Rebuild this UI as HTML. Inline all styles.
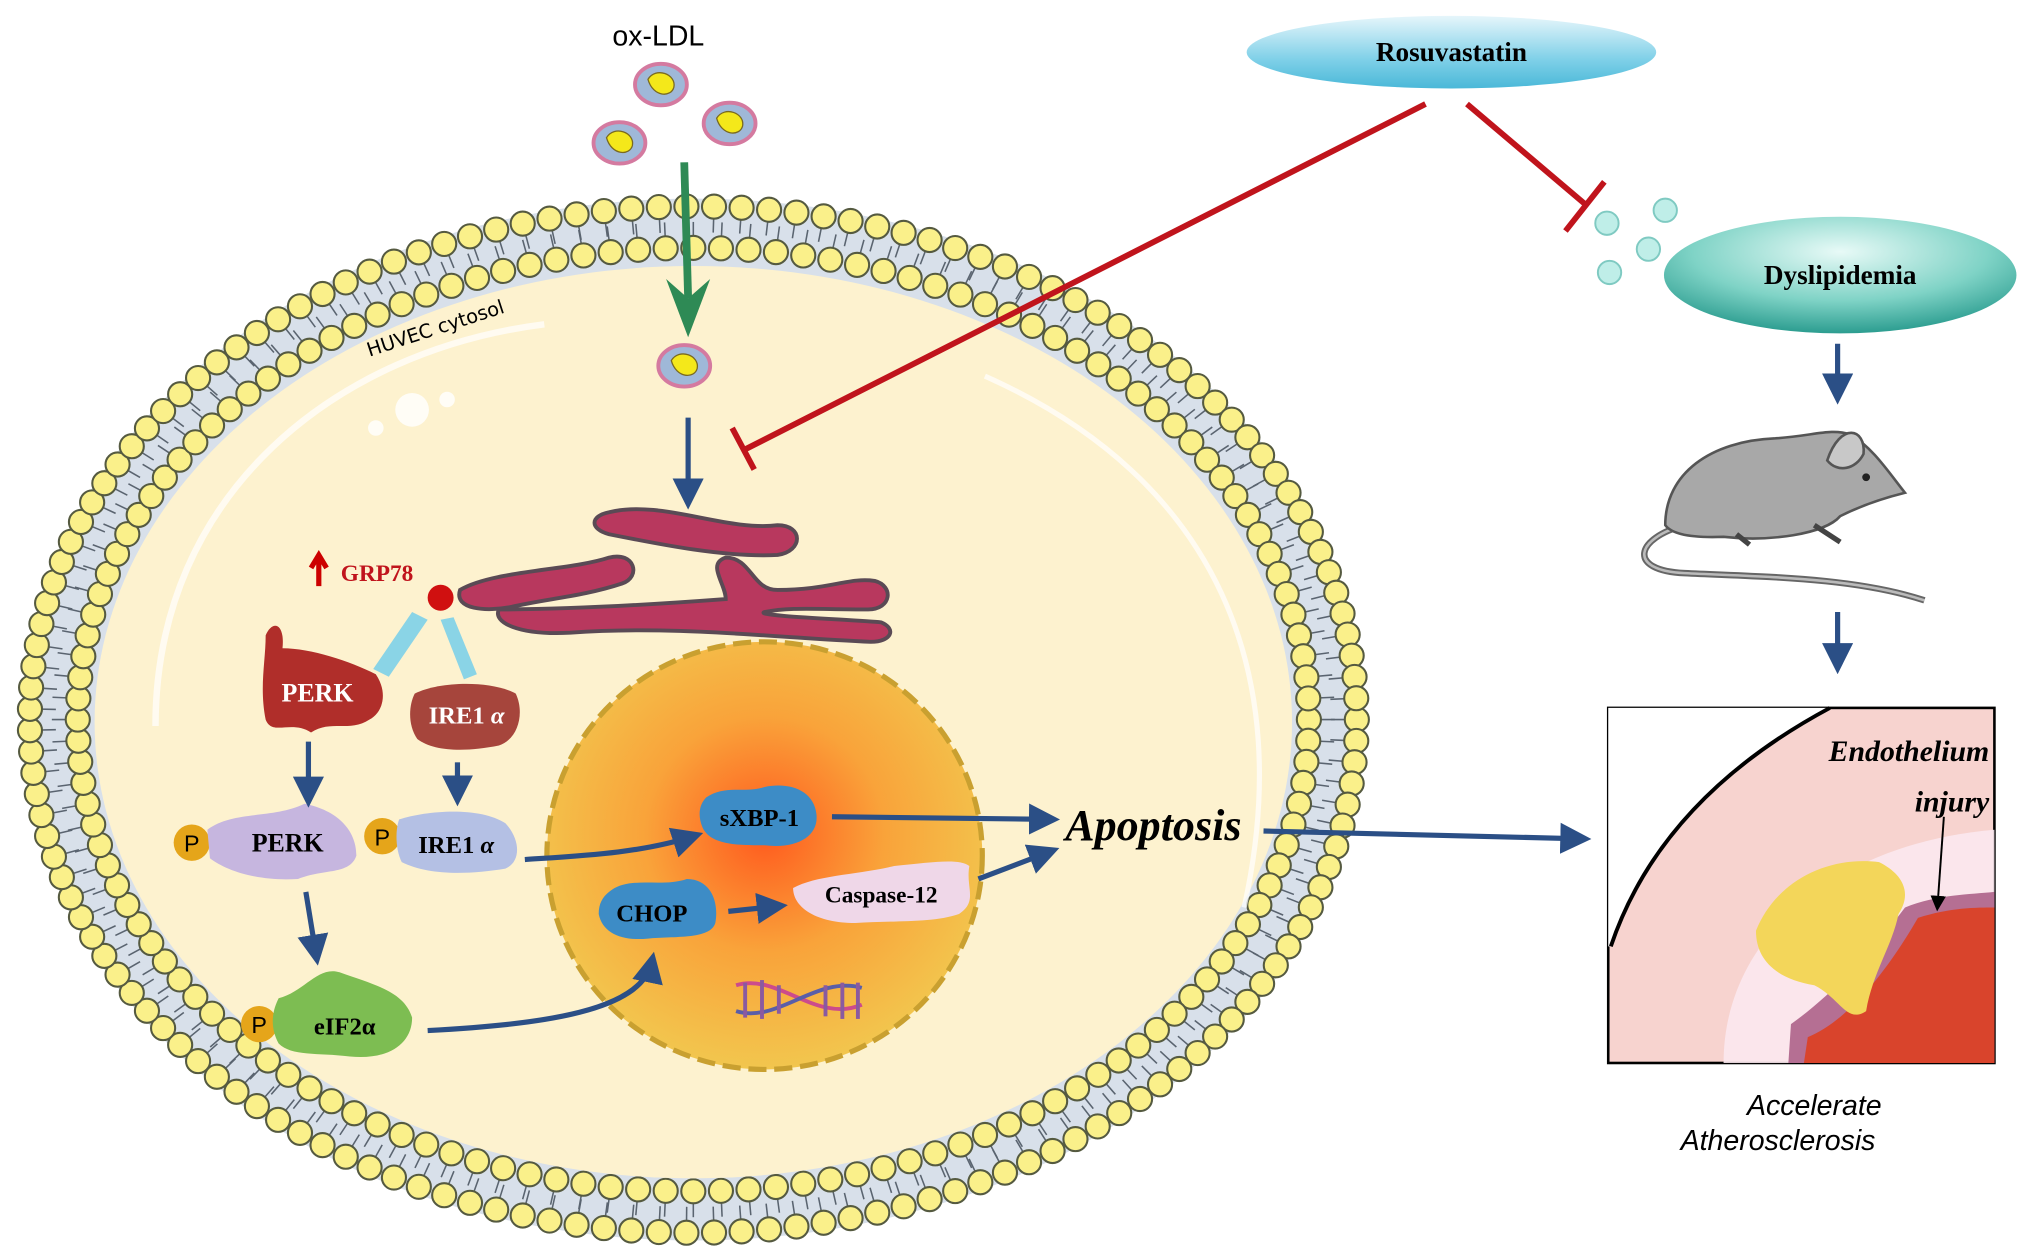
<!DOCTYPE html>
<html><head><meta charset="utf-8"><style>
html,body{margin:0;padding:0;background:#fff;}
svg{display:block;}
</style></head><body>
<svg id="s" width="2032" height="1259" viewBox="0 0 1568 971" xmlns="http://www.w3.org/2000/svg" font-family="Liberation Serif, serif">
<defs>
<radialGradient id="nuc" cx="0.5" cy="0.45" r="0.55"><stop offset="0" stop-color="#ff5a1e"/><stop offset="0.5" stop-color="#f9a33a"/><stop offset="1" stop-color="#f2c64e"/></radialGradient>
<linearGradient id="ros" x1="0" y1="0" x2="0" y2="1"><stop offset="0" stop-color="#e6f6fb"/><stop offset="0.6" stop-color="#7fd0e8"/><stop offset="1" stop-color="#4ab8d8"/></linearGradient>
<radialGradient id="dys" cx="0.5" cy="0.3" r="0.7"><stop offset="0" stop-color="#e8faf7"/><stop offset="0.6" stop-color="#7fd3c6"/><stop offset="1" stop-color="#2c9d90"/></radialGradient>
<marker id="ab" markerWidth="6" markerHeight="6" refX="4" refY="3" orient="auto" markerUnits="strokeWidth"><path d="M0,0 L6,3 L0,6 z" fill="#2b4f86"/></marker>
<marker id="ak" markerWidth="8" markerHeight="8" refX="6" refY="4" orient="auto" markerUnits="strokeWidth"><path d="M0,0 L8,4 L0,8 z" fill="#000"/></marker>
</defs>
<ellipse cx="535" cy="555" rx="518" ry="402" fill="#d8e0ea"/>
<g id="mem"></g>
<ellipse cx="535" cy="557" rx="462" ry="352" fill="#fdf2cf"/>
<path d="M120,560 C120,380 260,270 420,250" stroke="#fff" stroke-width="5" fill="none" opacity="0.7"/>
<path d="M760,290 C940,370 1000,520 960,700" stroke="#fff" stroke-width="4" fill="none" opacity="0.7"/>
<circle cx="318" cy="316" r="13" fill="#fff" opacity="0.8"/><circle cx="290" cy="330" r="6" fill="#fff" opacity="0.8"/><circle cx="345" cy="308" r="6" fill="#fff" opacity="0.8"/>
<text x="285" y="275" font-family="DejaVu Sans, sans-serif" font-size="15" transform="rotate(-18 285 275)">HUVEC cytosol</text>
<ellipse cx="590" cy="660" rx="168" ry="165" fill="url(#nuc)" stroke="#c9a030" stroke-width="4" stroke-dasharray="14 6"/>
<g stroke-width="3"><path d="M568,760 C600,750 630,790 665,775" stroke="#cc4b8c" fill="none"/><path d="M568,780 C600,790 630,752 665,762" stroke="#5a5ea8" fill="none"/>
<g stroke="#8a5aa0"><line x1="575" y1="758" x2="575" y2="785"/><line x1="588" y1="756" x2="588" y2="786"/><line x1="601" y1="760" x2="601" y2="782"/><line x1="637" y1="760" x2="637" y2="784"/><line x1="650" y1="758" x2="650" y2="786"/><line x1="662" y1="758" x2="662" y2="786"/></g></g>
<g fill="#b8385e" stroke="#5a4a55" stroke-width="3">
<path d="M470,395 C510,385 560,410 600,405 C620,405 620,425 600,428 C560,430 510,420 470,412 C455,408 455,398 470,395z"/>
<path d="M355,455 C380,440 440,440 470,430 C490,425 495,445 480,450 C450,460 420,462 395,468 C375,472 350,470 355,455z"/>
<path d="M385,470 C450,470 520,465 560,462 C560,450 545,435 560,430 C580,430 580,455 600,455 C640,455 655,445 675,448 C690,452 688,470 670,470 C630,470 610,468 590,472 C580,475 660,478 680,480 C692,485 688,495 672,495 C600,492 520,482 440,488 C400,490 380,480 385,470z"/>
</g>
<circle cx="340" cy="461" r="10" fill="#d01010"/>
<path d="M246,452 L246,432 M240,438 L246,428 L252,438" stroke="#c00" stroke-width="4" fill="none"/>
<text x="263" y="448" fill="#c0141c" font-size="18" font-weight="bold">GRP78</text>
<g fill="#8ad4e6"><polygon points="318,472 330,478 300,522 288,516"/><polygon points="340,478 350,476 368,520 358,524"/></g>
<path d="M205,490 C210,478 220,480 218,500 C240,500 270,510 290,520 C300,535 295,550 285,555 C270,565 255,555 240,565 C225,555 210,568 205,555 C200,530 205,510 205,490z" fill="#b02e2a"/>
<text x="245" y="541" fill="#fff" font-size="20" font-weight="bold" text-anchor="middle">PERK</text>
<path d="M320,535 C340,525 380,525 398,535 C405,550 400,570 385,575 C360,580 335,580 322,570 C315,560 315,545 320,535z" fill="#a6453c"/>
<text x="360" y="558" fill="#fff" font-size="19" font-weight="bold" text-anchor="middle">IRE1 <tspan font-style="italic">α</tspan></text>
<circle cx="148" cy="650" r="14" fill="#e5a51a"/><text x="148" y="657" font-size="18" font-family="Liberation Sans, sans-serif" text-anchor="middle">P</text>
<path d="M160,640 C180,625 210,632 235,620 C260,625 275,640 275,660 C270,675 250,670 230,678 C200,680 175,672 162,662z" fill="#c6b6df"/>
<text x="222" y="657" font-size="20" font-weight="bold" text-anchor="middle">PERK</text>
<circle cx="295" cy="645" r="14" fill="#e5a51a"/><text x="295" y="652" font-size="18" font-family="Liberation Sans, sans-serif" text-anchor="middle">P</text>
<path d="M308,632 C330,625 370,622 390,635 C402,648 402,665 390,670 C360,675 330,675 310,665 C305,655 305,640 308,632z" fill="#b4c0e4"/>
<text x="352" y="658" font-size="19" font-weight="bold" text-anchor="middle">IRE1 <tspan font-style="italic">α</tspan></text>
<circle cx="200" cy="790" r="14" fill="#e5a51a"/><text x="200" y="797" font-size="18" font-family="Liberation Sans, sans-serif" text-anchor="middle">P</text>
<path d="M215,770 C235,765 245,745 262,750 C290,760 312,765 318,785 C318,805 300,818 270,815 C245,812 225,815 215,805 C208,792 210,780 215,770z" fill="#7dbd52"/>
<text x="266" y="798" font-size="19" font-weight="bold" text-anchor="middle">eIF2α</text>
<path d="M545,615 C560,605 575,612 590,607 C610,603 628,610 630,628 C632,645 615,655 590,652 C570,652 548,652 542,638 C538,628 540,620 545,615z" fill="#3d8cc6"/>
<text x="586" y="637" font-size="19" font-weight="bold" text-anchor="middle">sXBP-1</text>
<path d="M470,688 C485,675 510,685 530,678 C548,678 555,695 552,712 C548,725 520,722 500,724 C480,726 465,720 462,705 C462,697 465,692 470,688z" fill="#3d8cc6"/>
<text x="503" y="711" font-size="19" font-weight="bold" text-anchor="middle">CHOP</text>
<path d="M612,685 C630,675 660,675 690,668 C720,665 740,662 748,668 C745,685 755,695 740,705 C720,712 690,710 660,712 C630,712 612,700 612,685z" fill="#efd7e8"/>
<text x="680" y="696" font-size="18" font-weight="bold" text-anchor="middle">Caspase-12</text>
<text x="890" y="648" font-size="34" font-weight="bold" font-style="italic" text-anchor="middle">Apoptosis</text>
<g stroke="#2b4f86" stroke-width="4" fill="none" marker-end="url(#ab)">
<line x1="531" y1="322" x2="531" y2="385"/>
<line x1="238" y1="572" x2="238" y2="615"/>
<line x1="353" y1="588" x2="353" y2="614"/>
<line x1="236" y1="688" x2="244" y2="737"/>
<path d="M405,663 C450,660 495,658 535,645"/>
<line x1="642" y1="630" x2="810" y2="632"/>
<line x1="562" y1="703" x2="600" y2="699"/>
<line x1="755" y1="678" x2="810" y2="657"/>
<path d="M330,795 C420,790 495,780 503,742"/>
<line x1="975" y1="641" x2="1220" y2="647"/>
<line x1="1418" y1="265" x2="1418" y2="304"/>
<line x1="1418" y1="472" x2="1418" y2="512"/>
</g>
<text x="508" y="35" font-family="Liberation Sans, sans-serif" font-size="22" text-anchor="middle">ox-LDL</text>
<g id="ldl"></g>
<path d="M528,125 L531,230" stroke="#2e8a55" stroke-width="6"/>
<polygon points="514,215 531,260 548,215 531,230" fill="#2e8a55"/>
<g stroke="#c0141c" stroke-width="4.5" fill="none">
<line x1="1100" y1="80" x2="574" y2="347"/>
<line x1="565" y1="330" x2="582" y2="362"/>
<line x1="1132" y1="80" x2="1224" y2="158"/>
<line x1="1238" y1="140" x2="1208" y2="178"/>
</g>
<ellipse cx="1120" cy="40" rx="158" ry="28" fill="url(#ros)"/>
<text x="1120" y="47" font-size="21" font-weight="bold" text-anchor="middle">Rosuvastatin</text>
<g fill="#bfeee8" stroke="#7fcac2" stroke-width="1.5"><circle cx="1240" cy="172" r="9"/><circle cx="1285" cy="162" r="9"/><circle cx="1272" cy="192" r="9"/><circle cx="1242" cy="210" r="9"/></g>
<ellipse cx="1420" cy="212" rx="136" ry="45" fill="url(#dys)"/>
<text x="1420" y="219" font-size="21" font-weight="bold" text-anchor="middle">Dyslipidemia</text>
<!-- mouse -->
<g stroke="#555" stroke-width="2">
<path d="M1300,405 C1262,415 1255,440 1300,442 C1360,445 1430,445 1485,463" fill="none" stroke="#666" stroke-width="5"/>
<path d="M1300,405 C1262,415 1255,440 1300,442 C1360,445 1430,445 1485,463" fill="none" stroke="#bbb" stroke-width="2"/>
<path d="M1285,405 C1285,365 1320,340 1370,338 C1400,336 1412,330 1428,335 C1445,345 1458,365 1470,380 C1450,385 1432,392 1420,398 C1408,412 1365,418 1330,414 C1305,415 1290,412 1285,405z" fill="#a8a8a8"/>
<path d="M1410,355 C1420,325 1440,330 1438,350 C1432,362 1418,365 1410,355z" fill="#c8c8c8"/>
<path d="M1340,412 L1350,420 M1400,405 L1420,418" stroke="#444" stroke-width="4"/>
</g>
<circle cx="1440" cy="368" r="3" fill="#222"/>
<rect x="1241" y="546" width="298" height="274" fill="#f7d3cf" stroke="#000" stroke-width="2"/>
<path d="M1241,546 L1412,546 C1330,590 1270,650 1243,730 L1241,730z" fill="#fff"/>
<path d="M1412,546 C1330,590 1270,650 1243,730" stroke="#000" stroke-width="3" fill="none"/>
<path d="M1330,820 C1330,720 1420,650 1539,640 L1539,820z" fill="#fbe8ee" opacity="0.9"/>
<path d="M1380,820 L1382,790 C1410,770 1440,740 1470,700 C1495,690 1520,690 1539,688 L1539,820z" fill="#b56f93"/>
<path d="M1392,820 L1395,800 C1420,790 1450,760 1480,708 C1505,700 1525,700 1539,700 L1539,820z" fill="#d9442c"/>
<path d="M1355,718 C1370,680 1410,660 1450,665 C1470,675 1475,690 1465,705 C1460,730 1445,750 1440,780 C1425,790 1420,770 1400,760 C1370,755 1355,740 1355,718z" fill="#f3d65a"/>
<text x="1535" y="587" font-size="23" font-weight="bold" font-style="italic" text-anchor="end">Endothelium</text>
<text x="1535" y="626" font-size="23" font-weight="bold" font-style="italic" text-anchor="end">injury</text>
<line x1="1500" y1="630" x2="1495" y2="700" stroke="#000" stroke-width="1.5" marker-end="url(#ak)"/>
<text x="1400" y="860" font-family="Liberation Sans, sans-serif" font-size="22" font-style="italic" text-anchor="middle">Accelerate</text>
<text x="1372" y="887" font-family="Liberation Sans, sans-serif" font-size="22" font-style="italic" text-anchor="middle">Atherosclerosis</text>
</svg>
<script>
var ns="http://www.w3.org/2000/svg";
function el(t,a,p){var e=document.createElementNS(ns,t);for(var k in a)e.setAttribute(k,a[k]);p.appendChild(e);return e;}
var m=document.getElementById('mem');
function ring(rx,ry,r,step,rx2,ry2){
  var n=Math.round(2*Math.PI*Math.sqrt((rx*rx+ry*ry)/2)/step);
  for(var i=0;i<n;i++){var t=2*Math.PI*i/n;var x=535+rx*Math.cos(t),y=555+ry*Math.sin(t);
    var x2=535+rx2*Math.cos(t),y2=555+ry2*Math.sin(t);
    el('line',{x1:x,y1:y,x2:x2,y2:y2,stroke:'#5a6470','stroke-width':1.2},m);}
  for(var i=0;i<n;i++){var t=2*Math.PI*i/n;el('circle',{cx:535+rx*Math.cos(t),cy:555+ry*Math.sin(t),r:r,fill:'#faf08a',stroke:'#555a40','stroke-width':1.6},m);}
}
ring(512,396,9.3,19,492,376);
ring(475,364,9.3,19,495,384);
var l=document.getElementById('ldl');
[[510,65],[478,110],[563,95],[528,282]].forEach(function(p){
  el('ellipse',{cx:p[0],cy:p[1],rx:20,ry:16,fill:'#9fb8d8',stroke:'#d47aa0','stroke-width':3},l);
  el('path',{d:'M'+(p[0]-10)+','+(p[1]-4)+' C'+(p[0]-4)+','+(p[1]-14)+' '+(p[0]+12)+','+(p[1]-8)+' '+(p[0]+10)+','+(p[1]+2)+' C'+(p[0]+8)+','+(p[1]+10)+' '+(p[0]-6)+','+(p[1]+10)+' '+(p[0]-10)+','+(p[1]-4)+'z',fill:'#f4e81a',stroke:'#7a6a20','stroke-width':1},l);
});
</script>
</body></html>
